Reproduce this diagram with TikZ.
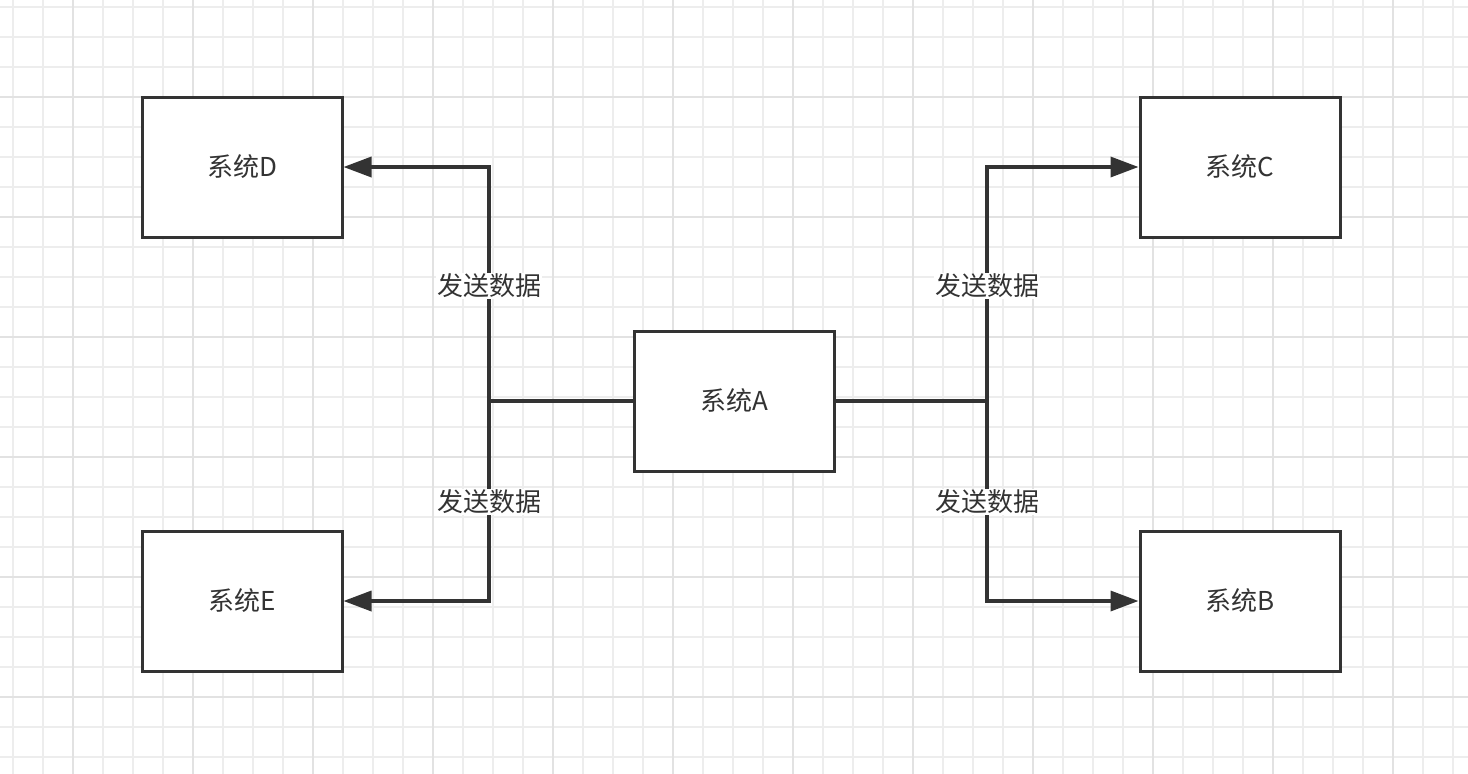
\documentclass[tikz,border=0pt]{standalone}
\usepackage{fontspec}
\newfontfamily\cjk{Noto Sans CJK SC}
\usetikzlibrary{arrows.meta}
\definecolor{minorgrid}{HTML}{EDEDED}
\definecolor{majorgrid}{HTML}{E2E2E2}
\definecolor{ink}{HTML}{333333}
\tikzset{
  sysbox/.style={draw=ink, line width=3pt, fill=white, minimum width=200pt, minimum height=140pt, inner sep=0pt, font=\cjk\fontsize{26}{30}\selectfont, text=ink},
  conn/.style={draw=ink, line width=3.5pt},
  arr/.style={conn, -{Triangle[length=28pt,width=20pt]}},
  lbl/.style={fill=white, inner sep=1pt, font=\cjk\fontsize{26}{30}\selectfont, text=ink}
}
\begin{document}
\begin{tikzpicture}[x=1pt,y=-1pt]
\fill[white] (0,0) rectangle (1468,774);
\useasboundingbox (0,0) rectangle (1468,774);
% grid
\foreach \x in {13,43,...,1468} \draw[minorgrid, line width=1.2pt] (\x,0) -- (\x,774);
\foreach \y in {7,37,...,774} \draw[minorgrid, line width=1.2pt] (0,\y) -- (1468,\y);
\foreach \x in {73,193,...,1468} \draw[majorgrid, line width=1.6pt] (\x,0) -- (\x,774);
\foreach \y in {97,217,...,774} \draw[majorgrid, line width=1.6pt] (0,\y) -- (1468,\y);
% boxes
\node[sysbox] (A) at (734,401) {系统A};
\node[sysbox] (D) at (242,167) {系统D};
\node[sysbox] (E) at (242,601) {系统E};
\node[sysbox] (C) at (1240,167) {系统C};
\node[sysbox] (B) at (1240,601) {系统B};
\coordinate (jl) at (489,401);
\coordinate (jr) at (987,401);
% connectors
\draw[conn] (A.west) -- (jl);
\draw[conn] (A.east) -- (jr);
\draw[arr] (jl) |- (D.east);
\draw[arr] (jl) |- (E.east);
\draw[arr] (jr) |- (C.west);
\draw[arr] (jr) |- (B.west);
% labels
\node[lbl] (l1) at (489,286) {发送数据};
\node[lbl] (l2) at (489,502) {发送数据};
\node[lbl] (l3) at (987,286) {发送数据};
\node[lbl] (l4) at (987,502) {发送数据};
\end{tikzpicture}
\end{document}
